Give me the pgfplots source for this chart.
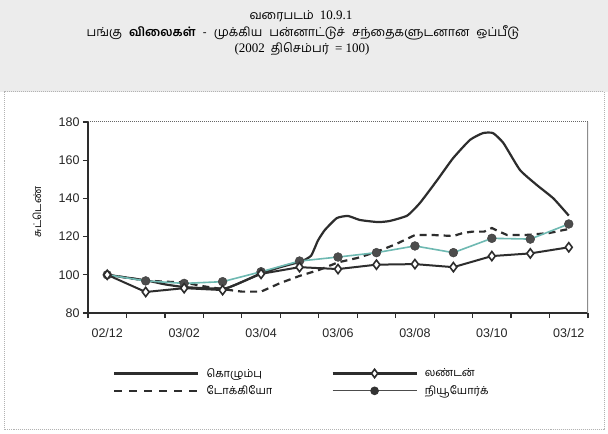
\documentclass[border=0pt]{standalone}
\usepackage{fontspec}
\usepackage{pgfplots}
\pgfplotsset{compat=1.18}
\setmainfont{Liberation Serif}
\newfontfamily\tamil[Script=Tamil]{Hind Madurai}
\newfontfamily\lsans{Liberation Sans}
\definecolor{dk}{RGB}{45,45,45}
\definecolor{nyteal}{RGB}{110,185,178}
\definecolor{bggray}{RGB}{236,236,236}

\pgfplotstableread{
x y
0 100
1.03 97
1.5 95
2.05 93.5
3.09 93
3.97 100.5
4.5 104
5.04 107
5.3 110
5.48 118
5.66 123.5
5.97 129.7
6.26 130.8
6.57 128.7
7.04 127.6
7.35 128.2
7.8 131
8.13 137.6
8.58 149.6
8.99 161
9.43 170.6
9.77 174.2
10.03 174.2
10.3 169
10.73 154.9
11.17 147
11.6 140
12 131
}\colombo

\pgfplotstableread{
x y
0 100
0.5 98.5
1 97
1.5 96.4
2 96
2.5 94
3 92.5
3.5 91.2
4 91.2
4.5 95.7
5 99.4
5.5 102.5
6 106.5
6.5 108.8
7 112
7.5 116
8 120.8
8.5 120.8
9 120.3
9.25 121.9
9.5 122.6
9.8 122.6
10 124.5
10.15 123
10.4 120.8
10.8 120.8
11 121
11.5 121.9
12 124
}\tokyo

\pgfplotstableread{
x y
0 100
1 91
2 93
3 92
4 100.5
5 104
6 103
7 105.3
8 105.6
9 104
10 109.8
11 111.2
12 114.4
}\london

\pgfplotstableread{
x y
0 100
1 96.8
2 95.5
3 96.4
4 101.6
5 107.2
6 109.3
7 111.6
8 115.1
9 111.6
10 119.1
11 118.7
12 126.6
}\newyork

\begin{document}
\begin{tikzpicture}
\path[use as bounding box] (0,0) rectangle (608bp,434bp);
\fill[white] (0,0) rectangle (608bp,434bp);
\fill[bggray] (0,342bp) rectangle (608bp,434bp);
\draw[gray!60, densely dotted, line width=1bp] (4bp,4bp) rectangle (604bp,342bp);

% titles
\node[font={\tamil\fontsize{12.3bp}{14bp}\selectfont}] at (301bp,418bp) {வரைபடம்\hspace{6bp}{\rmfamily\fontsize{13bp}{14bp}\selectfont 10.9.1}};
\node[font={\tamil\fontsize{12.3bp}{14bp}\selectfont}] at (303bp,401bp) {பங்கு\hspace{4bp} {\bfseries விலைகள்}\hspace{4bp} -\hspace{4bp} முக்கிய\hspace{4bp} பன்னாட்டுச்\hspace{4bp} சந்தைகளுடனான\hspace{4bp} ஒப்பீடு};
\node[font={\tamil\fontsize{12.3bp}{14bp}\selectfont}] at (302bp,385bp) {{\rmfamily\fontsize{13bp}{14bp}\selectfont (2002}\hspace{6bp}திசெம்பர்\hspace{6bp}{\rmfamily\fontsize{13bp}{14bp}\selectfont = 100)}};

% y label
\node[rotate=90, font={\tamil\fontsize{10.5bp}{12bp}\selectfont}] at (37bp,222bp) {சுட்டெண்};

\begin{axis}[
  at={(88bp,121bp)}, anchor=south west,
  scale only axis, width=500bp, height=191bp,
  xmin=-0.5, xmax=12.5, ymin=80, ymax=180,
  axis x line*=bottom, axis y line*=left,
  axis line style={dk, line width=1.5bp, -},
  tick align=outside,
  xtick={0,2,...,12},
  xticklabels={02/12,03/02,03/04,03/06,03/08,03/10,03/12},
  major x tick style={draw=none},
  minor xtick={-0.5,0.5,...,12.5},
  minor x tick style={dk, line width=1.3bp},
  minor tick length=5bp,
  ytick={80,100,...,180},
  major y tick style={dk, line width=1.3bp},
  major tick length=5bp,
  /pgf/number format/assume math mode=true,
  ticklabel style={font={\lsans\fontsize{12.5bp}{14bp}\selectfont}, text=black!85},
  xticklabel style={yshift=-7bp},
  legend columns=2,
  legend cell align=left,
  legend style={at={(axis description cs:0.05,-0.362)}, anchor=west, draw=none, fill=none,
    inner sep=0pt, row sep=3bp,
    font={\tamil\fontsize{11bp}{12bp}\selectfont},
    nodes={inner xsep=7bp},
    /tikz/every even column/.append style={column sep=52bp}},
  legend image code/.code={\draw[mark repeat=2, mark phase=2, #1] plot coordinates {(0bp,0bp) (42bp,0bp) (84bp,0bp)};},
]
\draw[black!60, line width=1bp, densely dotted] (rel axis cs:0,1) -- (rel axis cs:1,1);
\draw[black!45, line width=1.5bp] (rel axis cs:1,1) -- (rel axis cs:1,0);

\addplot[forget plot, dk, line width=2.2bp, dash pattern=on 7bp off 5bp] table {\tokyo};
\addplot[forget plot, dk, line width=2.2bp, smooth, tension=0.3] table {\colombo};
\addplot[forget plot, nyteal, line width=1.6bp, mark=*, mark size=4.4bp, mark options={draw=black!75, fill=black!70, line width=0.5bp}] table {\newyork};
\addplot[forget plot, dk, line width=2bp, mark=diamond*, mark size=4.6bp, mark options={fill=white, draw=dk, line width=1.6bp}] table {\london};

\addlegendimage{dk, line width=2.4bp}
\addlegendentry{கொழும்பு}
\addlegendimage{dk, line width=2.6bp, mark=diamond*, mark size=4.2bp, mark options={fill=white, draw=dk, line width=1.6bp}}
\addlegendentry{லண்டன்}
\addlegendimage{dk, line width=2.4bp, dash pattern=on 8bp off 7bp}
\addlegendentry{டோக்கியோ}
\addlegendimage{black!70, line width=1bp, mark=*, mark size=3.8bp, mark options={fill=black!80, draw=black!80}}
\addlegendentry{நியூயோர்க்}
\end{axis}
\end{tikzpicture}
\end{document}
